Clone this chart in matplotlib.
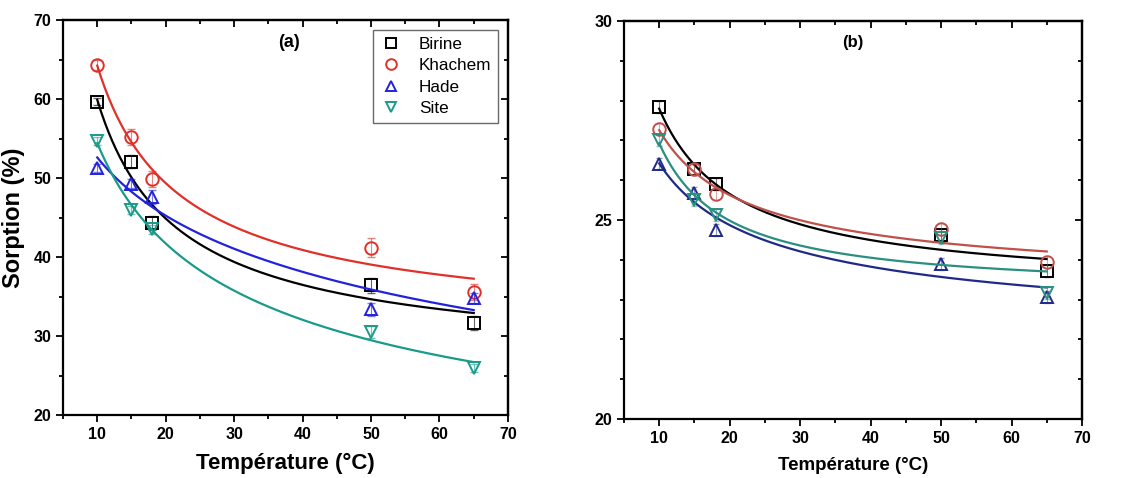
import numpy as np
import matplotlib
matplotlib.use('Agg')
import matplotlib.pyplot as plt
from matplotlib.ticker import MultipleLocator

plt.rcParams['font.family'] = ['Liberation Sans', 'DejaVu Sans']
plt.rcParams['font.weight'] = 'bold'

# Data
temp = [10, 15, 18, 50, 65]
names = ['Birine', 'Khachem', 'Hade', 'Site']

# panel (a)
birine_a = [59.7, 52.1, 44.3, 36.4, 31.7]
khachem_a = [64.3, 55.2, 49.9, 41.2, 35.6]
hade_a = [51.3, 49.3, 47.6, 33.4, 34.8]
site_a = [54.7, 46.0, 43.5, 30.5, 25.9]
err_birine_a = [0.5, 0.8, 0.9, 0.9, 0.9]
err_khachem_a = [0.6, 1.0, 1.0, 1.2, 1.0]
err_hade_a = [0.5, 0.6, 0.9, 0.8, 0.6]
err_site_a = [0.5, 0.5, 0.6, 0.8, 0.5]

# panel (b)
birine_b = [27.85, 26.27, 25.9, 24.62, 23.72]
khachem_b = [27.28, 26.27, 25.65, 24.77, 23.95]
hade_b = [26.42, 25.67, 24.75, 23.9, 23.07]
site_b = [27.0, 25.5, 25.13, 24.54, 23.16]

colors_a = ['black', '#e0302a', '#2222dd', '#1a9a8a']
colors_b = ['black', '#c0504a', '#1f2a88', '#2a8f80']
markers = ['s', 'o', '^', 'v']


def fit_curve(x, y):
    # least squares y = a + b*x^p, p picked from a grid
    x = np.asarray(x, float)
    y = np.asarray(y, float)
    best = None
    for p in np.linspace(-2.0, -0.05, 80):
        b, a = np.polyfit(x ** p, y, 1)
        res = np.sum((a + b * x ** p - y) ** 2)
        if best is None or res < best[0]:
            best = (res, a, b, p)
    xs = np.linspace(x.min(), x.max(), 200)
    return xs, best[1] + best[2] * xs ** best[3]


def style_axes(ax, ymaj, ymin):
    for s in ax.spines.values():
        s.set_linewidth(1.6)
    ax.xaxis.set_major_locator(MultipleLocator(10))
    ax.xaxis.set_minor_locator(MultipleLocator(5))
    ax.yaxis.set_major_locator(MultipleLocator(ymaj))
    ax.yaxis.set_minor_locator(MultipleLocator(ymin))
    ax.tick_params(which='major', direction='out', length=5, width=1.3, labelsize=11.5)
    ax.tick_params(which='minor', direction='out', length=3, width=1.3)
    # inward ticks on the opposite sides, no labels
    top = ax.secondary_xaxis('top')
    right = ax.secondary_yaxis('right')
    top.xaxis.set_major_locator(MultipleLocator(10))
    top.xaxis.set_minor_locator(MultipleLocator(5))
    right.yaxis.set_major_locator(MultipleLocator(ymaj))
    right.yaxis.set_minor_locator(MultipleLocator(ymin))
    for sec in (top, right):
        sec.tick_params(which='major', direction='in', length=5, width=1.3,
                        labeltop=False, labelright=False)
        sec.tick_params(which='minor', direction='in', length=3, width=1.3)
        for s in sec.spines.values():
            s.set_linewidth(1.6)
    ax.set_xlim(5, 70)
    for lab in ax.get_xticklabels() + ax.get_yticklabels():
        lab.set_fontweight('bold')


fig = plt.figure(figsize=(11.32, 4.78), dpi=100)
ax1 = fig.add_axes([0.0557, 0.1318, 0.393, 0.826])
ax2 = fig.add_axes([0.5512, 0.1234, 0.4046, 0.8326])

# Panel (a)
data_a = [birine_a, khachem_a, hade_a, site_a]
errs_a = [err_birine_a, err_khachem_a, err_hade_a, err_site_a]
for y, e, c, m, n in zip(data_a, errs_a, colors_a, markers, names):
    xs, ys = fit_curve(temp, y)
    ax1.plot(xs, ys, color=c, lw=1.6)
    ax1.errorbar(temp, y, yerr=e, fmt='none', ecolor=c, elinewidth=0.8,
                 capsize=3, alpha=0.6)
    ax1.plot(temp, y, linestyle='none', marker=m, markersize=9,
             markerfacecolor='none', markeredgecolor=c, markeredgewidth=1.4,
             label=n)

ax1.set_ylim(20, 70)
style_axes(ax1, 10, 5)
ax1.set_xlabel('Température (°C)', fontsize=16, fontweight='bold', labelpad=8)
ax1.set_ylabel('Sorption (%)', fontsize=17, fontweight='bold', labelpad=6)
ax1.text(38, 67.2, '(a)', fontsize=13, fontweight='bold', ha='center', va='center')
leg = ax1.legend(loc='upper right', bbox_to_anchor=(0.978, 0.975), fontsize=12.3,
                 frameon=True, fancybox=False, edgecolor='#444444',
                 handletextpad=0.9, borderpad=0.4, labelspacing=0.38,
                 handlelength=1.4, borderaxespad=0, markerscale=0.85)
leg.get_frame().set_linewidth(1.0)
for t in leg.get_texts():
    t.set_fontweight('normal')

# Panel (b)
data_b = [birine_b, khachem_b, hade_b, site_b]
for y, c, m, n in zip(data_b, colors_b, markers, names):
    xs, ys = fit_curve(temp, y)
    ax2.plot(xs, ys, color=c, lw=1.6)
    ax2.errorbar(temp, y, yerr=0.15, fmt='none', ecolor=c, elinewidth=0.8,
                 capsize=2, alpha=0.5)
    ax2.plot(temp, y, linestyle='none', marker=m, markersize=9,
             markerfacecolor='none', markeredgecolor=c, markeredgewidth=1.4,
             label=n)

ax2.set_ylim(20, 30)
style_axes(ax2, 5, 1)
ax2.set_xlabel('Température (°C)', fontsize=13.5, fontweight='bold', labelpad=8)
ax2.text(37.5, 29.47, '(b)', fontsize=12, fontweight='bold', ha='center', va='center')

fig.savefig('out.png', dpi=100)
